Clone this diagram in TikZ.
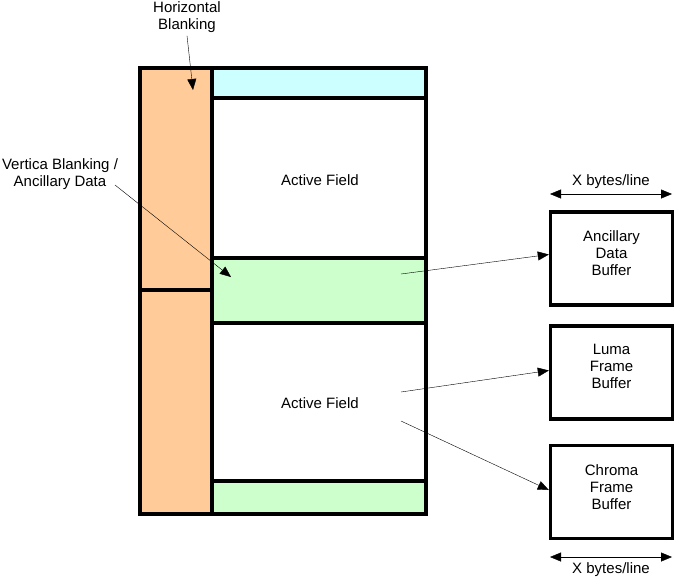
\documentclass[tikz,border=0pt]{standalone}
\usepackage{fontspec}
\setmainfont{Liberation Sans}
\usetikzlibrary{arrows.meta,positioning}
\definecolor{hblank}{HTML}{FFCC99}
\definecolor{vblank}{HTML}{CCFFFF}
\definecolor{ancdata}{HTML}{CCFFCC}
\tikzset{
	thick box/.style={line width=3.4pt},
	buffer/.style={draw, line width=3.4pt, minimum width=122pt, minimum height=93pt},
	label/.style={align=center, inner sep=0pt},
}
\begin{document}
\begin{tikzpicture}[x=1pt, y=-1pt, >={Triangle[length=11pt,width=9pt]}, font=\fontsize{15}{17}\selectfont, line join=miter]
	\useasboundingbox (0,0) rectangle (676,579);
	\def\xl{140} \def\xm{212} \def\xr{426}
	\def\yt{68} \def\yb{514}
	% field regions
	\fill[hblank] (\xl,\yt) rectangle (\xm,\yb);
	\fill[vblank] (\xm,\yt) rectangle (\xr,98);
	\fill[ancdata] (\xm,258) rectangle (\xr,323);
	\fill[ancdata] (\xm,481) rectangle (\xr,\yb);
	\draw[thick box] (\xl,\yt) rectangle (\xr,\yb);
	\draw[thick box] (\xm,\yt)--(\xm,\yb);
	\draw[thick box] (\xl,290)--(\xm,290);
	\draw[thick box] (\xm,98)--(\xr,98);
	\draw[thick box] (\xm,258)--(\xr,258);
	\draw[thick box] (\xm,323)--(\xr,323);
	\draw[thick box] (\xm,481)--(\xr,481);
	\node[label] (field1) at (320,180) {Active Field};
	\node[label] (field2) at (320,403) {Active Field};
	% labels on the left
	\node[label] (hlabel) at (187,17) {Horizontal\\Blanking};
	\node[label] (vlabel) at (60,174) {Vertica Blanking /\\Ancillary Data};
	\coordinate (hpoint) at (193,90);
	\coordinate (vstart) at (115,185);
	\coordinate (vpoint) at (231,277);
	\draw[->] ([yshift=-3pt]hlabel.south) -- (hpoint);
	\draw[->] (vstart) -- (vpoint);
	% buffers
	\node[buffer] (ancbuf) at (611.5,258.5) {};
	\node[buffer] (lumabuf) at (611.5,372.5) {};
	\node[buffer] (chromabuf) at (611.5,492) {};
	\node[label] (anctext) at ([yshift=5pt]ancbuf.center) {Ancillary\\Data\\Buffer};
	\node[label] (lumatext) at ([yshift=6pt]lumabuf.center) {Luma\\Frame\\Buffer};
	\node[label] (chromatext) at ([yshift=5pt]chromabuf.center) {Chroma\\Frame\\Buffer};
	\coordinate (ancstart) at (401,274);
	\coordinate (lumastart) at (401,392);
	\coordinate (chromastart) at (401,421);
	\draw[->] (ancstart) -- ([yshift=4pt]ancbuf.west);
	\draw[->] (lumastart) -- ([yshift=2pt]lumabuf.west);
	\draw[->] (chromastart) -- ([yshift=2pt]chromabuf.west);
	% line width marks
	\coordinate (topl) at (550,194); \coordinate (topr) at (672,194);
	\coordinate (botl) at (550,557); \coordinate (botr) at (672,557);
	\draw[<->] (topl) -- (topr) node[label, midway, above=5pt] (toptext) {X bytes/line};
	\draw[<->] (botl) -- (botr) node[label, midway, below=5pt] (bottext) {X bytes/line};
\end{tikzpicture}
\end{document}
